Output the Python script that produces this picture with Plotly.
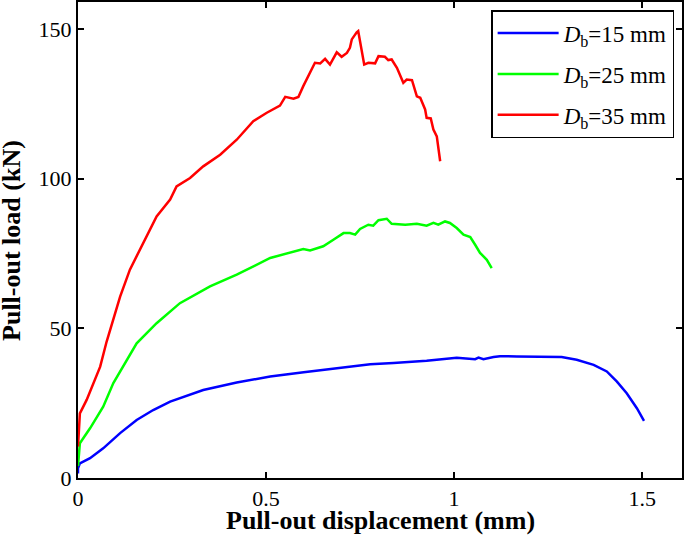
import plotly.graph_objects as go

# ---- data ----
x_15 = [0, 0.0, 0.005, 0.032, 0.067, 0.112, 0.156, 0.2, 0.245, 0.333, 0.422, 0.511, 0.6, 0.688, 0.777,
        0.839, 0.927, 1.007, 1.043, 1.056, 1.065, 1.078, 1.105, 1.122, 1.167, 1.238, 1.286, 1.326,
        1.371, 1.406, 1.433, 1.459, 1.486, 1.505]
y_15 = [1.5, 3.2, 4.9, 6.6, 9.9, 15, 19.4, 22.7, 25.5, 29.4, 31.9, 33.9, 35.3, 36.7, 38.0,
        38.4, 39.2, 40.2, 40, 39.7, 40.2, 39.7, 40.4, 40.7, 40.6, 40.4, 40.4, 39.5,
        37.8, 35.6, 32.2, 28.3, 23.3, 19.1]

x_25 = [0, 0.002, 0.005, 0.032, 0.067, 0.094, 0.129, 0.156, 0.209, 0.271, 0.351, 0.422, 0.511, 0.564,
        0.599, 0.617, 0.652, 0.679, 0.706, 0.723, 0.737, 0.75, 0.772, 0.785, 0.799, 0.821, 0.834,
        0.870, 0.901, 0.927, 0.945, 0.958, 0.976, 0.989, 1.007, 1.025, 1.043, 1.056, 1.069, 1.087, 1.100]
y_25 = [4, 8, 11.6, 16.6, 23.8, 31.7, 39.5, 45, 51.7, 58.4, 64, 67.9, 73.5, 75.2,
        76.5, 76, 77.4, 79.6, 81.8, 81.8, 81.3, 83.2, 84.6, 84.3, 86.1, 86.6, 84.9,
        84.6, 84.9, 84.3, 85.2, 84.6, 85.7, 85.2, 83.5, 81.3, 80.5, 77.9, 75.2, 72.9, 70.1]

x_35 = [0, 0.002, 0.005, 0.023, 0.041, 0.059, 0.076, 0.094, 0.112, 0.138, 0.165, 0.209, 0.245, 0.262,
        0.298, 0.333, 0.378, 0.422, 0.466, 0.502, 0.537, 0.551, 0.573, 0.586, 0.599, 0.617, 0.630,
        0.644, 0.657, 0.670, 0.688, 0.701, 0.715, 0.723, 0.728, 0.741, 0.745, 0.761, 0.772, 0.790,
        0.799, 0.816, 0.825, 0.834, 0.848, 0.865, 0.874, 0.888, 0.901, 0.910, 0.923, 0.927, 0.938,
        0.945, 0.954, 0.963]
y_35 = [10.5, 17, 21.6, 26.1, 31.7, 37.2, 45.5, 52.8, 60.6, 69.6, 76.3, 87.4, 93, 97.4,
        100.2, 104.1, 108, 113, 119.2, 122, 124.4, 127.3, 126.7, 127.3, 130.9, 135.4, 138.7,
        138.5, 140, 138.1, 142.2, 140.7, 142, 143.7, 146.5, 148.9, 149.3, 138.1, 138.7, 138.5,
        140.9, 140.7, 139.6, 139.8, 137, 132, 133.1, 132.9, 127.5, 127, 123.1, 120.3, 120.1,
        116.4, 114.1, 105.8]

series_names = ["<i>D</i><sub>b</sub>=15 mm", "<i>D</i><sub>b</sub>=25 mm", "<i>D</i><sub>b</sub>=35 mm"]
series_colors = ["#0000FF", "#00FF00", "#FF0000"]
xs = [x_15, x_25, x_35]
ys = [y_15, y_25, y_35]

x_ticks = [0, 0.5, 1, 1.5]
x_ticklabels = ["0", "0.5", "1", "1.5"]
y_ticks = [0, 50, 100, 150]
y_ticklabels = ["0", "50", "100", "150"]
x_title = "Pull-out displacement (mm)"
y_title = "Pull-out load (kN)"

FONT = "Liberation Serif, Times New Roman, serif"

fig = go.Figure()
for i in range(3):
    fig.add_trace(go.Scatter(x=xs[i], y=ys[i], mode="lines", name=series_names[i],
                             legendgroup=f"g{i}",
                             line=dict(color=series_colors[i], width=2.5)))

axis_common = dict(showline=True, linecolor="black", linewidth=2, mirror="ticks",
                   ticks="inside", ticklen=6, tickwidth=1.5, tickcolor="black",
                   showgrid=False, zeroline=False, automargin=False,
                   tickfont=dict(family=FONT, size=22, color="black"))

fig.update_xaxes(range=[0, 1.606], tickvals=x_ticks, ticktext=x_ticklabels, **axis_common)
fig.update_yaxes(range=[0, 159], tickvals=y_ticks, ticktext=y_ticklabels, **axis_common)

title_font = dict(family=FONT, size=26, color="black")
fig.add_annotation(text=f"<b>{x_title}</b>", xref="paper", yref="paper",
                   x=0.5, y=-0.0903, xanchor="center", yanchor="middle",
                   showarrow=False, font=title_font)
fig.add_annotation(text=f"<b>{y_title}</b>", xref="paper", yref="paper",
                   x=-0.111, y=0.5, xanchor="center", yanchor="middle", textangle=-90,
                   showarrow=False, font=title_font)

fig.update_layout(
    width=685, height=538,
    margin=dict(l=78, r=3, t=2, b=60),
    paper_bgcolor="white", plot_bgcolor="white",
    showlegend=True,
    legend=dict(x=0.684, y=0.983, xanchor="left", yanchor="top",
                bgcolor="white", bordercolor="black", borderwidth=1.5,
                font=dict(family=FONT, size=23, color="black"),
                tracegroupgap=8, itemwidth=61),
)

fig.write_html("out.html", config={"displayModeBar": False},
               post_script="document.body.style.margin='0';document.body.style.overflow='hidden';")
